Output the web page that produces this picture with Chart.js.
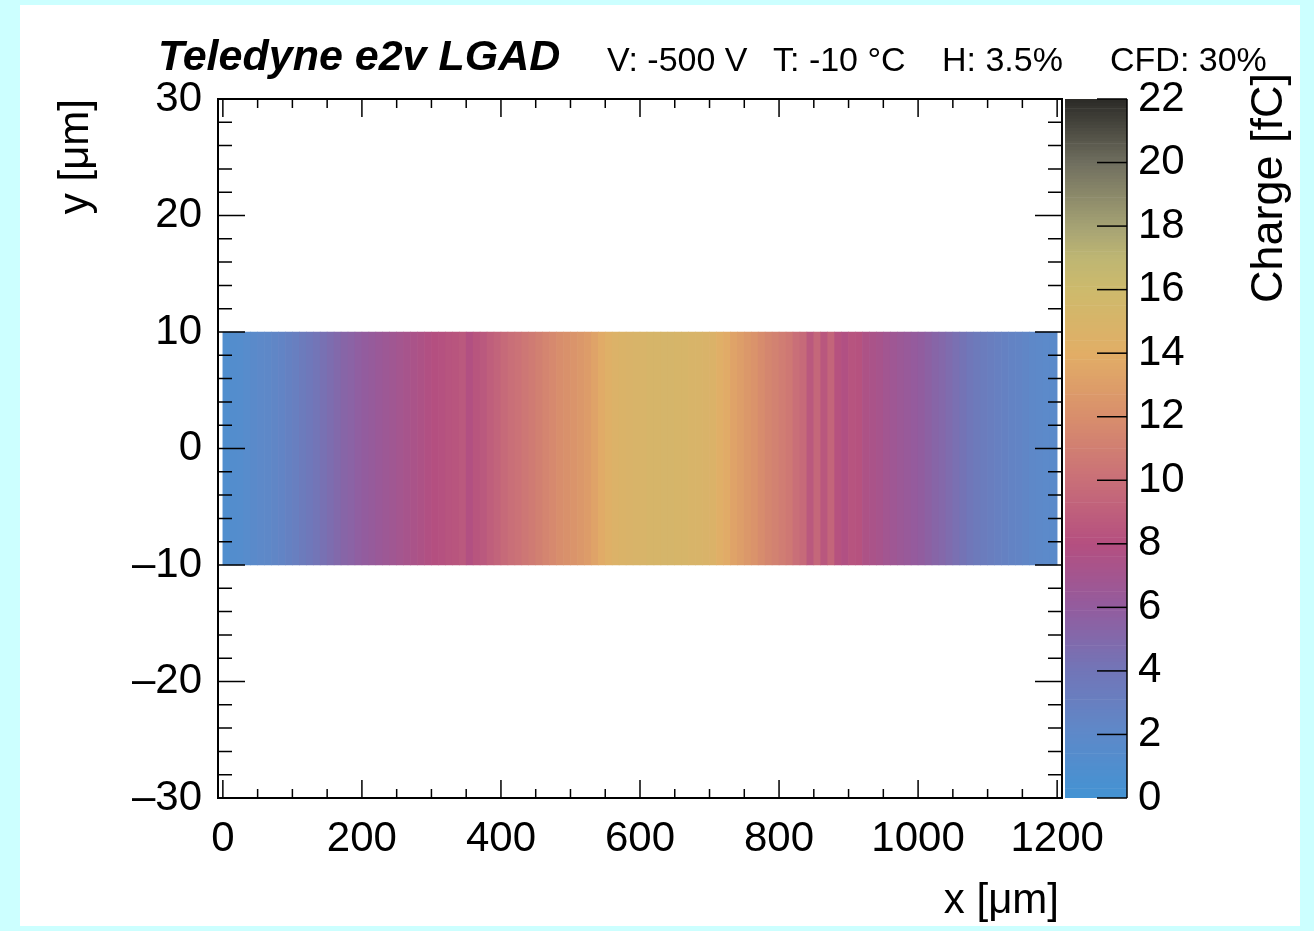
<!DOCTYPE html>
<html>
<head>
<meta charset="utf-8">
<title>Teledyne e2v LGAD – charge map</title>
<script src="https://cdn.jsdelivr.net/npm/chart.js@4.4.1/dist/chart.umd.min.js"></script>
<style>
  html, body { margin: 0; padding: 0; background: #ccffff; width: 1314px; height: 931px; overflow: hidden; }
  #pad { position: absolute; left: 20px; top: 5px; width: 1280px; height: 921px; background: #ffffff; }
  canvas { position: absolute; left: 0; top: 0; }
</style>
</head>
<body>
<div id="pad"></div>
<canvas id="mapChart" width="1314" height="931"></canvas>
<canvas id="zChart" width="1314" height="931"></canvas>
<script>
// ---- Data -------------------------------------------------------------
// Charge per x bin (10 µm bins starting at x = 0 µm), in fC.
const xBinWidth = 10;
const xFirstEdge = 0;
const chargeValues = [
  1.0, 1.2, 1.3, 1.5, 1.8, 2.0, 2.1, 2.3, 2.5, 2.8,
  3.1, 3.5, 3.8, 4.1, 4.4, 4.7, 5.0, 5.3, 5.5, 5.8,
  6.0, 6.2, 6.4, 6.6, 6.8, 7.0, 7.2, 7.4, 7.6, 7.8,
  8.0, 8.1, 8.3, 8.4, 8.6, 7.9, 8.4, 8.6, 9.0, 9.3,
  9.7, 10.0, 10.2, 10.5, 10.8, 11.1, 11.4, 11.7, 12.0, 12.2,
  12.4, 12.6, 12.9, 13.3, 13.8, 14.3, 14.6, 14.8, 14.9, 15.0,
  15.0, 15.1, 15.1, 15.2, 15.2, 15.1, 15.1, 15.0, 15.0, 14.9,
  14.7, 14.2, 13.8, 13.3, 13.0, 12.6, 12.3, 11.9, 11.5, 11.2,
  10.9, 10.6, 10.0, 9.7, 8.6, 9.5, 8.5, 9.4, 8.2, 7.8,
  8.3, 8.2, 7.6, 7.4, 7.2, 6.9, 6.7, 6.5, 6.3, 6.1,
  5.9, 5.6, 5.3, 5.1, 4.8, 4.5, 4.2, 3.9, 3.6, 3.4,
  3.2, 3.0, 2.8, 2.6, 2.5, 2.3, 2.1, 2.0, 1.9, 1.8
];
// Every x bin spans the same y interval (µm).
const stripY = [-10, 10];

// Axis ranges and labelled ticks
const xRange = [-7, 1207];
const yRange = [-30, 30];
const zRange = [0, 22];
const xTickValues = [0, 200, 400, 600, 800, 1000, 1200];
const yTickValues = [-30, -20, -10, 0, 10, 20, 30];
const zTickValues = [0, 2, 4, 6, 8, 10, 12, 14, 16, 18, 20, 22];

// Text
const headerTitle = 'Teledyne e2v LGAD';
const headerInfo = ['V: -500 V', 'T: -10 \u00B0C', 'H: 3.5%', 'CFD: 30%'];
const xTitle = 'x [\u03BCm]';
const yTitle = 'y [\u03BCm]';
const zTitle = 'Charge [fC]';

// Colour palette: charge (fC) -> rgb
const paletteStops = [
  [0,  [67, 147, 211]],
  [2,  [93, 137, 201]],
  [4,  [113, 118, 184]],
  [6,  [147, 92, 158]],
  [8,  [180, 79, 128]],
  [10, [201, 111, 120]],
  [12, [216, 142, 108]],
  [14, [226, 174, 102]],
  [16, [205, 186, 108]],
  [17, [190, 182, 115]],
  [18, [165, 162, 116]],
  [20, [112, 111, 95]],
  [22, [43, 42, 39]]
];

// ---- Helpers ----------------------------------------------------------
function paletteColor(v) {
  const s = paletteStops;
  if (v <= s[0][0]) return 'rgb(' + s[0][1].join(',') + ')';
  for (let i = 1; i < s.length; i++) {
    if (v <= s[i][0]) {
      const t = (v - s[i - 1][0]) / (s[i][0] - s[i - 1][0]);
      const c = s[i - 1][1].map((a, k) => Math.round(a + t * (s[i][1][k] - a)));
      return 'rgb(' + c.join(',') + ')';
    }
  }
  return 'rgb(' + s[s.length - 1][1].join(',') + ')';
}
const dashNum = v => (v < 0 ? '\u2013' + Math.abs(v) : String(v));
const FONT = "'Liberation Sans', Arial, Helvetica, sans-serif";

// Inward tick marks on both sides of an axis
function drawTicks(ctx, scale, a, horizontal, step, majorStep, majorLen, minorLen, both) {
  const lo = Math.ceil(scale.min / step) * step;
  for (let v = lo; v <= scale.max + 1e-9; v += step) {
    const isMajor = Math.abs(v / majorStep - Math.round(v / majorStep)) < 1e-6;
    const len = isMajor ? majorLen : minorLen;
    const p = scale.getPixelForValue(v);
    ctx.beginPath();
    if (horizontal) {
      ctx.moveTo(p, a.bottom); ctx.lineTo(p, a.bottom - len);
      if (both) { ctx.moveTo(p, a.top); ctx.lineTo(p, a.top + len); }
    } else {
      ctx.moveTo(a.left, p); ctx.lineTo(a.left + len, p);
      if (both) { ctx.moveTo(a.right, p); ctx.lineTo(a.right - len, p); }
    }
    ctx.stroke();
  }
}

const mapDecor = {
  id: 'mapDecor',
  afterDatasetsDraw(chart) {
    const { ctx, chartArea: a, scales } = chart;
    ctx.save();
    ctx.strokeStyle = '#000';
    ctx.lineWidth = 1.5;
    drawTicks(ctx, scales.x, a, true, 50, 200, 18, 9, true);
    drawTicks(ctx, scales.y, a, false, 2, 10, 27, 14, true);
    ctx.lineWidth = 2;
    ctx.strokeRect(a.left, a.top, a.right - a.left, a.bottom - a.top);
    ctx.restore();
  },
  afterDraw(chart) {
    const { ctx, chartArea: a } = chart;
    ctx.save();
    ctx.fillStyle = '#000';
    ctx.textBaseline = 'alphabetic';
    ctx.textAlign = 'left';
    ctx.font = 'italic bold 43px ' + FONT;
    ctx.fillText(headerTitle, 158, 70);
    ctx.font = '34px ' + FONT;
    const infoX = [607, 773, 942, 1110];
    headerInfo.forEach((t, i) => ctx.fillText(t, infoX[i], 71));
    // axis titles, right-aligned at the axis end
    ctx.font = '42px ' + FONT;
    ctx.textAlign = 'right';
    ctx.fillText(xTitle, a.right - 3, 913);
    ctx.translate(88, a.top);
    ctx.rotate(-Math.PI / 2);
    ctx.fillText(yTitle, 0, 0);
    ctx.restore();
  }
};

const zDecor = {
  id: 'zDecor',
  afterDatasetsDraw(chart) {
    const { ctx, chartArea: a, scales } = chart;
    const z = scales.y;
    ctx.save();
    ctx.strokeStyle = '#000';
    ctx.lineWidth = 1.5;
    zTickValues.forEach(v => {
      const p = z.getPixelForValue(v);
      ctx.beginPath();
      ctx.moveTo(a.right, p); ctx.lineTo(a.right - 30, p);
      ctx.stroke();
    });
    ctx.beginPath();
    ctx.moveTo(a.right, a.top); ctx.lineTo(a.right, a.bottom);
    ctx.stroke();
    ctx.restore();
  },
  afterDraw(chart) {
    const { ctx, chartArea: a } = chart;
    ctx.save();
    ctx.fillStyle = '#000';
    ctx.font = '45px ' + FONT;
    ctx.textAlign = 'right';
    ctx.textBaseline = 'alphabetic';
    ctx.translate(1282, a.top - 26);
    ctx.rotate(-Math.PI / 2);
    ctx.fillText(zTitle, 0, 0);
    ctx.restore();
  }
};

// ---- Charge map -------------------------------------------------------
const cells = chargeValues.map((v, i) => ({
  x: xFirstEdge + (i + 0.5) * xBinWidth,
  y: stripY
}));

new Chart(document.getElementById('mapChart'), {
  type: 'bar',
  data: {
    datasets: [{
      data: cells,
      backgroundColor: chargeValues.map(paletteColor),
      borderWidth: 0,
      barPercentage: 1.0,
      categoryPercentage: 1.0
    }]
  },
  options: {
    responsive: false,
    animation: false,
    devicePixelRatio: 1,
    layout: { padding: { left: 0, right: 252, top: 99, bottom: 0 } },
    plugins: { legend: { display: false }, tooltip: { enabled: false } },
    scales: {
      x: {
        type: 'linear', min: xRange[0], max: xRange[1], offset: false,
        grid: { display: false }, border: { display: false },
        afterBuildTicks: s => { s.ticks = xTickValues.map(v => ({ value: v })); },
        afterFit: s => { s.height = 133; },
        ticks: { autoSkip: false, maxRotation: 0, padding: 8, color: '#000',
                 font: { family: FONT, size: 42 }, callback: v => dashNum(v) }
      },
      y: {
        type: 'linear', min: yRange[0], max: yRange[1],
        grid: { display: false }, border: { display: false },
        afterBuildTicks: s => { s.ticks = yTickValues.map(v => ({ value: v })); },
        afterFit: s => { s.width = 218; },
        ticks: { autoSkip: false, padding: 8, color: '#000',
                 font: { family: FONT, size: 42 }, callback: v => dashNum(v) }
      }
    }
  },
  plugins: [mapDecor]
});

// ---- Colour scale -----------------------------------------------------
const zSegment = 0.1;
const zCells = [];
const zColors = [];
for (let k = 0; k < Math.round((zRange[1] - zRange[0]) / zSegment); k++) {
  const c = zRange[0] + (k + 0.5) * zSegment;
  zCells.push({ y: c, x: [0, 1] });
  zColors.push(paletteColor(c));
}

new Chart(document.getElementById('zChart'), {
  type: 'bar',
  data: {
    datasets: [{
      data: zCells,
      backgroundColor: zColors,
      borderWidth: 0,
      barPercentage: 1.0,
      categoryPercentage: 1.0
    }]
  },
  options: {
    indexAxis: 'y',
    responsive: false,
    animation: false,
    devicePixelRatio: 1,
    layout: { padding: { left: 1065, right: 0, top: 99, bottom: 133 } },
    plugins: { legend: { display: false }, tooltip: { enabled: false } },
    scales: {
      x: { type: 'linear', min: 0, max: 1, display: false },
      y: {
        type: 'linear', position: 'right', min: zRange[0], max: zRange[1], offset: false,
        grid: { display: false }, border: { display: false },
        afterBuildTicks: s => { s.ticks = zTickValues.map(v => ({ value: v })); },
        afterFit: s => { s.width = 1314 - 1127; },
        ticks: { autoSkip: false, padding: 3, color: '#000',
                 font: { family: FONT, size: 42 } }
      }
    }
  },
  plugins: [zDecor]
});
</script>
</body>
</html>
